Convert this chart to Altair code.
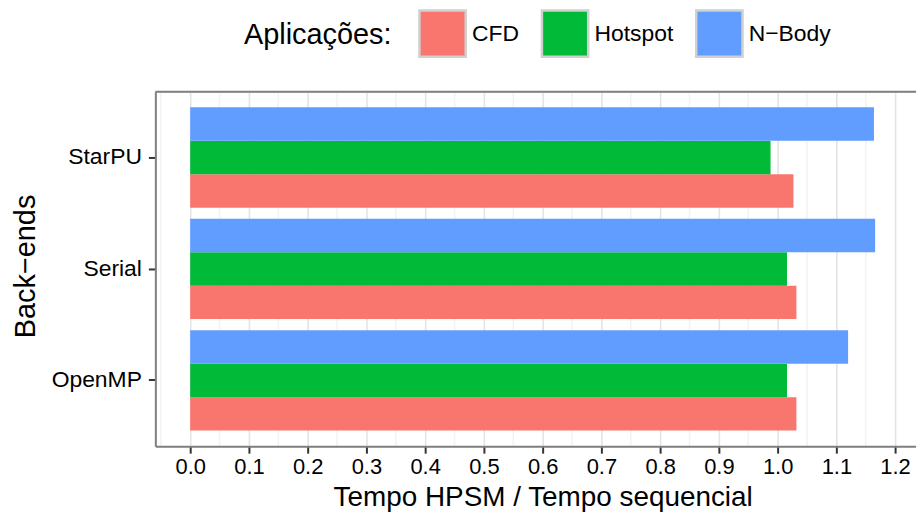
import altair as alt
import pandas as pd

# ---- data ----
backends = ["StarPU", "Serial", "OpenMP"]
apps = ["CFD", "Hotspot", "N−Body"]
cfd = [1.027, 1.032, 1.032]
hotspot = [0.988, 1.016, 1.016]
nbody = [1.164, 1.166, 1.120]
app_colors = ["#F8766D", "#00BA38", "#619CFF"]
x_tick_values = [-0.05, 0.0, 0.05, 0.1, 0.15, 0.2, 0.25, 0.3, 0.35, 0.4, 0.45, 0.5,
                 0.55, 0.6, 0.65, 0.7, 0.75, 0.8, 0.85, 0.9, 0.95, 1.0, 1.05, 1.1,
                 1.15, 1.2]

rows = []
for i, b in enumerate(backends):
    for app, vals in zip(apps, [cfd, hotspot, nbody]):
        rows.append({"backend": b, "app": app, "ratio": vals[i]})
df = pd.DataFrame(rows)

W, H = 764, 356
FONT = "Liberation Sans"
major = "abs(round(datum.value * 100)) % 10 == 0"

x_axis = alt.Axis(
    values=x_tick_values,
    labelExpr=f"{major} ? format(datum.value, '.1f') : ''",
    labelOverlap=False,
    labelFlush=False,
    labelFontSize=22,
    labelColor="black",
    labelPadding=3,
    tickSize=7,
    tickWidth=2,
    tickColor="#333333",
    tickOpacity=alt.condition(major, alt.value(1), alt.value(0)),
    gridColor=alt.condition(major, alt.value("#e4e4e4"), alt.value("#f3f3f3")),
    gridWidth=1.6,
    domainColor="#7f7f7f",
    domainWidth=2,
    titleFontSize=28,
    titleFontWeight="normal",
    titleColor="black",
    titleX=389,
    titleY=59.5,
    titleAlign="center",
    titleBaseline="alphabetic",
)

y_axis = alt.Axis(
    labelFontSize=23,
    labelColor="black",
    labelPadding=7,
    tickSize=7,
    tickWidth=2,
    tickColor="#333333",
    gridColor="#ebebeb",
    gridWidth=1.6,
    domainColor="#7f7f7f",
    domainWidth=2,
    titleFontSize=29,
    titleFontWeight="normal",
    titleColor="black",
    titleAngle=270,
    titleX=-121,
    titleY=175,
    titleAlign="center",
    titleBaseline="alphabetic",
)

legend = alt.Legend(
    orient="none",
    direction="horizontal",
    legendX=89,
    legendY=-83,
    padding=0,
    titleOrient="left",
    titleFontSize=29,
    titleFontWeight="normal",
    titleColor="black",
    titlePadding=26,
    titleAnchor="middle",
    titleBaseline="middle",
    labelFontSize=23,
    labelColor="black",
    labelOffset=5,
    columnPadding=17,
    symbolType="square",
    symbolSize=2162,
    symbolStrokeColor="#d0d0d0",
    symbolStrokeWidth=2.5,
    symbolOpacity=1,
)

bars = alt.Chart(df).mark_bar().encode(
    x=alt.X("ratio:Q", title="Tempo HPSM / Tempo sequencial",
            scale=alt.Scale(domain=[-0.0593, 1.2356], nice=False, zero=False),
            axis=x_axis),
    y=alt.Y("backend:N", sort=backends, title="Back−ends",
            scale=alt.Scale(paddingInner=0.1, paddingOuter=0.14),
            axis=y_axis),
    yOffset=alt.YOffset("app:N", sort=["N−Body", "Hotspot", "CFD"],
                        scale=alt.Scale(paddingInner=0, paddingOuter=0)),
    color=alt.Color("app:N", title="Aplicações:",
                    scale=alt.Scale(domain=apps, range=app_colors),
                    legend=legend),
)

top_border = alt.Chart(pd.DataFrame({"k": [0]})).mark_rule(
    color="#7f7f7f", strokeWidth=2
).encode(x=alt.value(0), x2=alt.value(W), y=alt.value(0))

chart = alt.layer(bars, top_border).properties(
    width=W,
    height=H,
    autosize=alt.AutoSizeParams(type="none"),
    padding={"left": 148, "top": 83, "right": 0, "bottom": 65},
).configure_view(stroke=None).configure(font=FONT)

chart.save("out.html", embed_options={"renderer": "svg", "actions": False})
